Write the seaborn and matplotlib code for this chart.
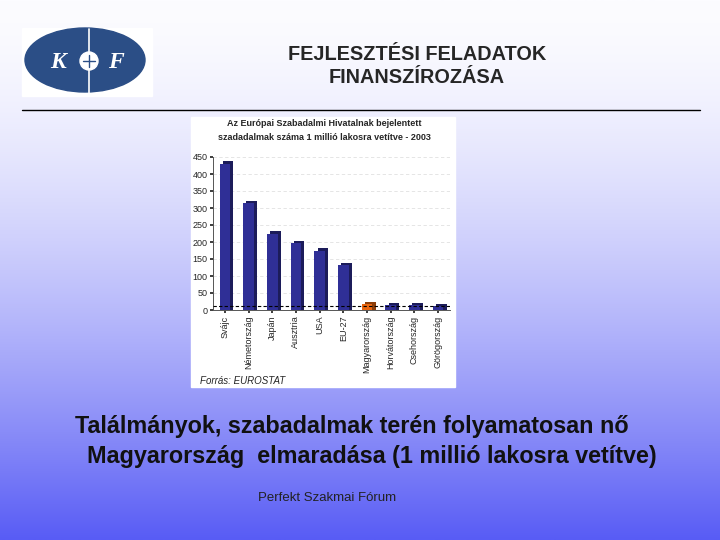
import numpy as np
import pandas as pd
import matplotlib
matplotlib.use("Agg")
import matplotlib.pyplot as plt
import seaborn as sns
from matplotlib.patches import Ellipse, Circle, Rectangle

# data
countries = ["Svájc", "Németország", "Japán", "Ausztria", "USA", "EU-27",
             "Magyarország", "Horvátország", "Csehország", "Görögország"]
patents = [430, 315, 225, 197, 175, 132, 18, 15, 15, 11]
highlight = "Magyarország"
yticks = [0, 50, 100, 150, 200, 250, 300, 350, 400, 450]

sns.set_theme(style="white")
plt.rcParams["font.family"] = ["Liberation Sans", "DejaVu Sans"]

fig = plt.figure(figsize=(7.2, 5.4), dpi=100)

# slide background: white -> blue gradient
bg = fig.add_axes([0, 0, 1, 1], zorder=-10)
grad = np.linspace(0, 1, 256) ** 1.6
top = np.array([252, 252, 255]) / 255
bottom = np.array([88, 92, 245]) / 255
img = top[None, :] * (1 - grad[:, None]) + bottom[None, :] * grad[:, None]
bg.imshow(img[:, None, :], aspect="auto", extent=[0, 1, 0, 1])
bg.set_axis_off()

def px(x, y):
    return x / 720, 1 - y / 540

# logo
lg = fig.add_axes([0, 0, 1, 1], zorder=1)
lg.set_xlim(0, 720)
lg.set_ylim(540, 0)
lg.set_axis_off()
lg.add_patch(Rectangle((22, 28), 130, 68, color="white", zorder=0))
lg.add_patch(Ellipse((85, 60), 120, 64, color="#2b4e86", zorder=1))
lg.add_patch(Circle((89, 61), 9, color="white", zorder=2))
lg.plot([89, 89], [29, 95], color="white", lw=1.2, zorder=3)
lg.plot([83, 95], [61, 61], color="#2b4e86", lw=1, zorder=4)
lg.plot([89, 89], [55, 67], color="#2b4e86", lw=1, zorder=4)
lg.text(58, 62, "K", color="white", fontsize=17, fontweight="bold", style="italic",
        family=["Liberation Serif", "DejaVu Serif"], ha="center", va="center", zorder=5)
lg.text(116, 62, "F", color="white", fontsize=17, fontweight="bold", style="italic",
        family=["Liberation Serif", "DejaVu Serif"], ha="center", va="center", zorder=5)
lg.plot([22, 700], [110, 110], color="black", lw=1)

# white panel behind the chart
lg.add_patch(Rectangle((191, 117), 264, 270, color="white", zorder=0))

fig.text(*px(417, 55), "FEJLESZTÉSI FELADATOK", ha="center", va="center",
         fontsize=14.3, fontweight="bold")
fig.text(*px(417, 78), "FINANSZÍROZÁSA", ha="center", va="center",
         fontsize=14.3, fontweight="bold")

fig.text(*px(324, 123), "Az Európai Szabadalmi Hivatalnak bejelentett", ha="center",
         va="center", fontsize=6.5, fontweight="bold")
fig.text(*px(324, 137), "szadadalmak száma 1 millió lakosra vetítve - 2003", ha="center",
         va="center", fontsize=6.5, fontweight="bold")
fig.text(*px(200, 381), "Forrás: EUROSTAT", ha="left", va="center",
         fontsize=7, style="italic")

# the bar chart
df = pd.DataFrame({"country": countries, "value": patents})
palette = {c: ("#e8650f" if c == highlight else "#2f2f96") for c in countries}
ax = fig.add_axes([213 / 720, 1 - 310 / 540, 237 / 720, 153 / 540], zorder=2)
ax.set_facecolor("white")
sns.barplot(data=df, x="country", y="value", hue="country", palette=palette,
            legend=False, width=0.45, saturation=1, linewidth=0, ax=ax, zorder=3)
# fake 3D depth behind each bar
for bar in list(ax.patches):
    x0, w, h = bar.get_x(), bar.get_width(), bar.get_height()
    col = np.array(matplotlib.colors.to_rgb(bar.get_facecolor())) * 0.6
    ax.add_patch(Rectangle((x0 + w * 0.3, 0), w, h + 7, color=col, lw=0, zorder=2.5))
ax.axhline(11, color="black", lw=0.8, ls=(0, (3, 2)), zorder=4)
ax.set_ylim(0, 450)
ax.set_yticks(yticks)
ax.yaxis.grid(True, color="#e0e0e0", lw=0.6, ls=(0, (4, 3)))
ax.set_axisbelow(True)
ax.tick_params(axis="y", labelsize=6.5, length=2, pad=2, left=True)
ax.tick_params(axis="x", labelsize=6.5, length=2, pad=2, rotation=90, bottom=True)
ax.set_xlabel("")
ax.set_ylabel("")
for s in ["top", "right"]:
    ax.spines[s].set_visible(False)
for s in ["left", "bottom"]:
    ax.spines[s].set_color("#555555")
    ax.spines[s].set_linewidth(0.7)

fig.text(*px(352, 426), "Találmányok, szabadalmak terén folyamatosan nő", ha="center",
         va="center", fontsize=16.8, fontweight="bold", color="#111111")
fig.text(*px(372, 456), "Magyarország  elmaradása (1 millió lakosra vetítve)", ha="center",
         va="center", fontsize=16.8, fontweight="bold", color="#111111")
fig.text(*px(327, 498), "Perfekt Szakmai Fórum", ha="center", va="center",
         fontsize=9.5, color="#222222")

fig.savefig("out.png", dpi=100)
